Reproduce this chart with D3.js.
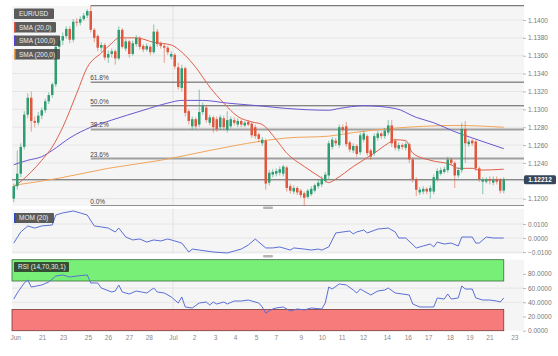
<!DOCTYPE html>
<html><head><meta charset="utf-8">
<script src="https://cdn.jsdelivr.net/npm/d3@7"></script>
<style>body{margin:0;background:#fff;} svg{display:block;font-family:"Liberation Sans",Arial,sans-serif;}</style>
</head><body><svg id="c" width="558" height="356"></svg>
<script>
// ---- data (EUR/USD 4h candles) ----
const opens = [1.1200,1.1214,1.1228,1.1258,1.1294,1.1313,1.1287,1.1285,1.1293,1.1299,1.1309,1.1316,1.1328,1.1370,1.1377,1.1382,1.1390,1.1378,1.1398,1.1397,1.1401,1.1405,1.1410,1.1389,1.1382,1.1369,1.1372,1.1358,1.1362,1.1365,1.1357,1.1389,1.1368,1.1376,1.1362,1.1373,1.1380,1.1371,1.1367,1.1370,1.1364,1.1387,1.1374,1.1371,1.1369,1.1359,1.1361,1.1347,1.1324,1.1346,1.1298,1.1281,1.1289,1.1283,1.1297,1.1302,1.1285,1.1291,1.1289,1.1280,1.1290,1.1277,1.1281,1.1288,1.1283,1.1287,1.1282,1.1286,1.1284,1.1280,1.1272,1.1262,1.1265,1.1218,1.1227,1.1228,1.1229,1.1228,1.1235,1.1214,1.1208,1.1212,1.1209,1.1206,1.1202,1.1205,1.1209,1.1214,1.1216,1.1220,1.1226,1.1258,1.1265,1.1260,1.1280,1.1281,1.1263,1.1254,1.1259,1.1252,1.1266,1.1270,1.1254,1.1251,1.1268,1.1273,1.1270,1.1274,1.1282,1.1265,1.1256,1.1260,1.1257,1.1261,1.1244,1.1222,1.1207,1.1208,1.1211,1.1208,1.1208,1.1222,1.1228,1.1230,1.1232,1.1244,1.1240,1.1226,1.1232,1.1278,1.1261,1.1265,1.1264,1.1234,1.1219,1.1219,1.1222,1.1218,1.1222,1.1221,1.1209];
const highs = [1.1217,1.1254,1.1262,1.1298,1.1318,1.1320,1.1292,1.1297,1.1302,1.1312,1.1319,1.1330,1.1373,1.1381,1.1386,1.1393,1.1393,1.1401,1.1402,1.1404,1.1408,1.1412,1.1416,1.1391,1.1384,1.1375,1.1374,1.1366,1.1368,1.1367,1.1393,1.1391,1.1379,1.1378,1.1377,1.1383,1.1382,1.1373,1.1374,1.1372,1.1395,1.1390,1.1376,1.1374,1.1371,1.1365,1.1363,1.1352,1.1350,1.1348,1.1300,1.1292,1.1291,1.1322,1.1308,1.1305,1.1294,1.1293,1.1292,1.1294,1.1293,1.1298,1.1292,1.1291,1.1290,1.1289,1.1287,1.1288,1.1286,1.1283,1.1274,1.1269,1.1267,1.1232,1.1233,1.1234,1.1236,1.1238,1.1237,1.1217,1.1215,1.1214,1.1211,1.1208,1.1211,1.1214,1.1217,1.1221,1.1225,1.1230,1.1265,1.1269,1.1268,1.1283,1.1283,1.1286,1.1265,1.1262,1.1261,1.1274,1.1276,1.1272,1.1256,1.1273,1.1276,1.1275,1.1279,1.1288,1.1288,1.1267,1.1263,1.1262,1.1264,1.1263,1.1246,1.1224,1.1213,1.1214,1.1213,1.1215,1.1227,1.1234,1.1235,1.1236,1.1247,1.1246,1.1242,1.1235,1.1285,1.1287,1.1267,1.1267,1.1266,1.1236,1.1224,1.1224,1.1225,1.1225,1.1225,1.1223,1.1224];
const lows = [1.1196,1.1210,1.1224,1.1255,1.1290,1.1275,1.1280,1.1282,1.1289,1.1296,1.1306,1.1313,1.1325,1.1366,1.1372,1.1379,1.1374,1.1375,1.1393,1.1394,1.1399,1.1402,1.1386,1.1375,1.1365,1.1364,1.1355,1.1352,1.1358,1.1350,1.1355,1.1368,1.1365,1.1358,1.1360,1.1370,1.1367,1.1364,1.1365,1.1361,1.1362,1.1370,1.1368,1.1352,1.1361,1.1356,1.1345,1.1322,1.1320,1.1292,1.1283,1.1277,1.1278,1.1280,1.1294,1.1285,1.1282,1.1274,1.1275,1.1277,1.1277,1.1274,1.1279,1.1282,1.1280,1.1280,1.1280,1.1281,1.1268,1.1267,1.1263,1.1259,1.1210,1.1215,1.1224,1.1225,1.1226,1.1225,1.1208,1.1206,1.1205,1.1204,1.1201,1.1192,1.1200,1.1203,1.1207,1.1211,1.1213,1.1218,1.1222,1.1255,1.1259,1.1257,1.1274,1.1258,1.1252,1.1251,1.1247,1.1249,1.1263,1.1248,1.1243,1.1248,1.1265,1.1267,1.1267,1.1271,1.1258,1.1254,1.1253,1.1255,1.1254,1.1240,1.1218,1.1203,1.1204,1.1205,1.1205,1.1200,1.1205,1.1219,1.1226,1.1228,1.1229,1.1237,1.1212,1.1223,1.1229,1.1240,1.1258,1.1259,1.1231,1.1219,1.1205,1.1217,1.1216,1.1215,1.1216,1.1206,1.1206];
const closes = [1.1214,1.1228,1.1258,1.1294,1.1313,1.1287,1.1285,1.1293,1.1299,1.1309,1.1316,1.1328,1.1370,1.1377,1.1382,1.1390,1.1378,1.1398,1.1397,1.1401,1.1405,1.1410,1.1389,1.1380,1.1369,1.1372,1.1358,1.1362,1.1365,1.1357,1.1389,1.1370,1.1376,1.1362,1.1374,1.1380,1.1370,1.1367,1.1371,1.1364,1.1387,1.1373,1.1371,1.1369,1.1364,1.1362,1.1348,1.1325,1.1346,1.1296,1.1287,1.1289,1.1281,1.1297,1.1304,1.1288,1.1291,1.1280,1.1278,1.1291,1.1280,1.1288,1.1289,1.1285,1.1287,1.1283,1.1285,1.1283,1.1271,1.1270,1.1267,1.1266,1.1217,1.1229,1.1230,1.1231,1.1233,1.1236,1.1212,1.1209,1.1212,1.1207,1.1204,1.1201,1.1209,1.1211,1.1215,1.1218,1.1222,1.1227,1.1262,1.1266,1.1262,1.1280,1.1277,1.1261,1.1255,1.1259,1.1250,1.1271,1.1273,1.1251,1.1247,1.1270,1.1273,1.1270,1.1276,1.1282,1.1262,1.1257,1.1260,1.1258,1.1261,1.1244,1.1222,1.1210,1.1210,1.1211,1.1208,1.1212,1.1224,1.1231,1.1232,1.1233,1.1244,1.1240,1.1226,1.1232,1.1278,1.1262,1.1264,1.1262,1.1234,1.1222,1.1221,1.1222,1.1220,1.1221,1.1219,1.1209,1.12212];

const sma20Idx = [0,5,8,11,14,18,21,25,28,30,35,40,45,48,52,56,60,64,68,71,75,78,83,88,90,92,97,103,107,109,112,114,119,125,127,131,133,140];
const sma20Val = [1.1213,1.1230,1.1243,1.1258,1.1280,1.1318,1.1347,1.1363,1.1374,1.1380,1.1380,1.1375,1.1372,1.1364,1.1347,1.1325,1.1307,1.1292,1.1286,1.1283,1.1266,1.1251,1.1236,1.1223,1.1218,1.1222,1.1236,1.1251,1.1262,1.1266,1.1265,1.1251,1.1243,1.1238,1.1234,1.1234,1.1232,1.1233];
const sma100Idx = [0,4,8,11,16,22,28,37,44,48,54,61,70,78,90,93,100,109,115,120,126,131,140];
const sma100Val = [1.1238,1.1243,1.1247,1.1254,1.1268,1.1280,1.1288,1.1299,1.1307,1.1310,1.1310,1.1307,1.1304,1.1301,1.1299,1.1301,1.1304,1.1301,1.1291,1.1285,1.1275,1.1268,1.1256];
const sma200Idx = [0,13,27,42,56,70,78,90,97,109,117,126,140];
const sma200Val = [1.1215,1.1223,1.1234,1.1243,1.1254,1.1264,1.1268,1.1270,1.1274,1.1279,1.1281,1.1282,1.1280];

const momIdx = [0,2,4,6,8,11,12,14,17,19,21,23,25,27,29,30,32,34,36,38,40,42,44,46,48,50,51,53,57,61,63,65,67,69,70,72,74,76,79,80,83,85,87,88,90,92,94,96,97,98,100,101,104,107,109,110,112,115,117,119,120,121,123,125,127,128,131,132,133,135,137,140];
const momVal = [-0.0036,0.0043,0.0086,0.0071,0.0086,0.0093,0.0164,0.0179,0.0193,0.0179,0.0164,0.0086,0.0079,0.0071,0.0043,0.0071,0.0007,-0.0014,-0.0007,-0.0029,-0.0014,-0.0021,-0.0007,-0.0021,-0.0036,-0.0100,-0.0079,-0.0086,-0.0100,-0.0107,-0.0093,-0.0079,-0.0050,-0.0007,-0.0029,-0.0071,-0.0071,-0.0064,-0.0086,-0.0071,-0.0079,-0.0086,-0.0079,-0.0086,-0.0064,0.0036,0.0043,0.0050,0.0029,0.0043,0.0057,0.0036,0.0064,0.0071,0.0043,0.0000,0.0000,-0.0071,-0.0057,-0.0043,-0.0064,-0.0029,-0.0043,-0.0036,-0.0057,0.0007,0.0007,-0.0036,-0.0036,0.0007,0.0000,0.0000];

const rsiIdx = [0,1,3,4,5,8,10,12,14,16,18,21,22,24,25,28,29,30,31,33,35,38,40,41,43,45,47,48,49,51,53,55,56,57,58,60,61,63,65,67,68,70,71,72,74,75,77,79,81,83,85,88,89,90,91,93,95,97,98,99,100,102,104,106,107,109,111,113,114,116,118,120,121,123,124,125,127,128,129,131,132,134,136,138,139,140];
const rsiVal = [44.6,53.1,67.2,71.4,61.5,64.4,68.6,77.0,78.5,75.6,77.0,78.5,67.2,67.2,60.1,54.5,55.9,64.4,54.5,51.7,55.9,53.1,60.1,54.5,53.1,47.5,39.0,47.5,33.4,32.0,39.0,40.4,36.2,40.4,37.6,40.4,37.6,41.8,41.8,43.2,41.8,39.0,33.4,24.9,30.6,32.0,33.4,27.7,30.6,29.2,32.0,30.6,39.0,61.5,58.7,65.8,64.4,57.3,53.1,58.7,55.9,50.3,55.9,57.3,60.1,53.1,51.7,50.3,37.6,33.4,33.4,33.4,46.1,44.6,51.7,44.6,46.1,63.0,58.7,58.7,46.1,43.2,43.2,41.8,40.4,46.1];

const priceTicks = [1.1200,1.1220,1.1240,1.1260,1.1280,1.1300,1.1320,1.1340,1.1360,1.1380,1.1400];
const momTicks = [-0.01,0,0.01];
const rsiTicks = [0,20,40,60,80];
const dateTickPos = [0.4,8.1,14.1,21.2,26.9,32.9,38.6,45.5,51.5,57.5,63.2,69.2,74.9,82,88,93.7,99.8,106.6,112.6,118.4,124.6,130.2,135.9,143];
const dateTickLabels = ["Jun","21","23","25","26","27","28","Jul","2","3","4","5","7","9","10","11","12","14","16","17","18","19","21","23"];
const fibLevels = [0,23.6,38.2,50,61.8,100];
const fibHigh = 1.1416, fibLow = 1.1192, fibStartIdx = 22;
const legendNames = ["EUR/USD","SMA (20,0)","SMA (100,0)","SMA (200,0)"];

// ---- layout ----
const svg = d3.select("#c");
const L = 12, R = 524;
const main = {t:6, b:206}, mom = {t:209, b:254}, rsi = {t:259.7, b:330.7};
const N = closes.length;
const x = d3.scaleLinear().domain([-0.5, N - 0.5]).range([L, 505.5]);
const y = d3.scaleLinear().domain([1.12, 1.14]).range([198.7, 20]);
const ym = d3.scaleLinear().domain([-0.01, 0.01]).range([252, 224]);
const yr = d3.scaleLinear().domain([0, 100]).range([rsi.b, rsi.t]);
const GREEN = "#2e9e72", RED = "#e0573e";
const lastPrice = closes[N-1];

// backgrounds
[main, mom, rsi].forEach(p => svg.append("rect").attr("x", L).attr("y", p.t).attr("width", R - L).attr("height", p.b - p.t).attr("fill", "#f5f5f5"));

// clip paths
const defs = svg.append("defs");
defs.append("clipPath").attr("id","cm").append("rect").attr("x",L).attr("y",main.t-1).attr("width",R-L).attr("height",main.b-main.t+1);
defs.append("clipPath").attr("id","co").append("rect").attr("x",L).attr("y",mom.t).attr("width",R-L).attr("height",mom.b-mom.t);

// grid lines
const g = svg.append("g");
priceTicks.forEach(v => g.append("line").attr("x1",L).attr("x2",R).attr("y1",y(v)).attr("y2",y(v)).attr("stroke","#e6e6e6"));
momTicks.forEach(v => g.append("line").attr("x1",L).attr("x2",R).attr("y1",ym(v)).attr("y2",ym(v)).attr("stroke","#e6e6e6"));
[40,60].forEach(v => g.append("line").attr("x1",L).attr("x2",R).attr("y1",yr(v)).attr("y2",yr(v)).attr("stroke","#e6e6e6"));
[main, mom, rsi].forEach(p => g.append("line").attr("x1",x(45.5)).attr("x2",x(45.5)).attr("y1",p.t).attr("y2",p.b).attr("stroke","#e2e2e2"));

// RSI bands
const lastX = x(N - 1);
svg.append("rect").attr("x",L).attr("y",yr(100)).attr("width",lastX-L).attr("height",yr(70)-yr(100)).attr("fill","#78f078").attr("stroke","#3d6b3d").attr("stroke-width",0.8);
svg.append("rect").attr("x",L).attr("y",yr(30)).attr("width",lastX-L).attr("height",yr(0)-yr(30)).attr("fill","#f77b7b").attr("stroke","#7a3a3a").attr("stroke-width",0.8);

// fibonacci lines
const mg = svg.append("g").attr("clip-path","url(#cm)");
fibLevels.forEach(l => {
  const p = fibLow + (fibHigh - fibLow) * l / 100;
  const heavy = (l === 23.6 || l === 38.2);
  mg.append("line").attr("x1",x(fibStartIdx)).attr("x2",R).attr("y1",y(p)).attr("y2",y(p))
    .attr("stroke", heavy ? "#a0a0a0" : "#5a5a5a").attr("stroke-width", heavy ? 2 : 1);
  if (l < 100) svg.append("text").attr("x",x(fibStartIdx)-0.5).attr("y",y(p)-2).attr("font-size",6.5).attr("fill","#444").text(l.toFixed(1)+"%");
});
// current price line
mg.append("line").attr("x1",L).attr("x2",R).attr("y1",y(lastPrice)).attr("y2",y(lastPrice)).attr("stroke","#606060").attr("stroke-width",1);

// SMA lines
function smaLine(idx, val, color) {
  const pts = idx.map((d,i)=>[x(d), y(val[i])]);
  mg.append("path").attr("d", d3.line().curve(d3.curveMonotoneX)(pts)).attr("fill","none").attr("stroke",color).attr("stroke-width",1);
}
smaLine(sma200Idx, sma200Val, "#f3a55a");
smaLine(sma100Idx, sma100Val, "#6a55d0");
smaLine(sma20Idx, sma20Val, "#e0604a");

// candles
const cg = mg.append("g");
closes.forEach((c,i) => {
  const o = opens[i], up = c >= o, col = up ? GREEN : RED;
  cg.append("line").attr("x1",x(i)).attr("x2",x(i)).attr("y1",y(highs[i])).attr("y2",y(lows[i])).attr("stroke",col).attr("stroke-opacity",0.55).attr("stroke-width",1);
  const top = y(Math.max(o,c)), bot = y(Math.min(o,c));
  cg.append("rect").attr("x",x(i)-1.25).attr("y",top).attr("width",2.5).attr("height",Math.max(0.8,bot-top)).attr("fill",col);
});

// MOM line
svg.append("path").attr("clip-path","url(#co)").attr("d", d3.line()(momIdx.map((d,i)=>[x(d), ym(momVal[i])]))).attr("fill","none").attr("stroke","#5b6fd6").attr("stroke-width",1);
// RSI line
svg.append("path").attr("d", d3.line()(rsiIdx.map((d,i)=>[x(d), yr(rsiVal[i])]))).attr("fill","none").attr("stroke","#5b6fd6").attr("stroke-width",1);

// right axes
function rightAxis(scale, ticks, fmt, hideNear) {
  const a = svg.append("g").attr("transform",`translate(${R-1},0)`)
    .call(d3.axisRight(scale).tickValues(ticks).tickFormat(fmt).tickSize(3).tickPadding(2));
  a.select(".domain").remove();
  a.selectAll("line").attr("stroke","#bbb");
  a.selectAll("text").attr("font-size",6.5).attr("fill","#777").attr("font-family","Liberation Sans, Arial, sans-serif");
  // the last-price tag covers the tick label next to it
  if (hideNear !== undefined) a.selectAll(".tick").filter(d => Math.abs(scale(d) - scale(hideNear)) < 8).select("text").remove();
}
rightAxis(y, priceTicks, d3.format(".4f"), lastPrice);
rightAxis(ym, momTicks, d3.format(".4f"));
rightAxis(yr, rsiTicks, d3.format(".4f"));

// last price tag
const lp = y(lastPrice);
svg.append("rect").attr("x",R).attr("y",lp-4.5).attr("width",32).attr("height",9).attr("rx",1.5).attr("fill","#34475c");
svg.append("text").attr("x",R+16).attr("y",lp+2.3).attr("text-anchor","middle").attr("font-size",6.5).attr("font-weight","bold").attr("fill","#fff").text(d3.format(".5f")(lastPrice));

// bottom axis
const xa = svg.append("g").attr("transform",`translate(0,${rsi.b})`)
  .call(d3.axisBottom(x).tickValues(dateTickPos).tickFormat((d,i)=>dateTickLabels[i]).tickSize(0).tickPadding(5));
xa.select(".domain").remove();
xa.selectAll("text").attr("font-size",6.5).attr("fill","#888").attr("font-family","Liberation Sans, Arial, sans-serif");

// splitter handles
[main.b + 1.5, mom.b + 2].forEach(yy => svg.append("rect").attr("x",263).attr("y",yy-1).attr("width",10).attr("height",2.5).attr("rx",1).attr("fill","#b5b5b5"));

// legend boxes
const legColors = [null, "#e0533f", "#5a3fd0", "#f0a050"];
const legW = [40, 42, 46, 46];
legendNames.forEach((n,i) => {
  const ty = 8.5 + i*13.5;
  svg.append("rect").attr("x",14).attr("y",ty).attr("width",legW[i]).attr("height",10.5).attr("rx",1).attr("fill","rgba(70,70,70,0.88)");
  if (legColors[i]) svg.append("rect").attr("x",14).attr("y",ty).attr("width",1.5).attr("height",10.5).attr("fill",legColors[i]);
  svg.append("text").attr("x",19).attr("y",ty+7.6).attr("font-size",6.5).attr("fill","#eee").text(n);
});
// MOM label
svg.append("rect").attr("x",14).attr("y",213).attr("width",40).attr("height",10).attr("rx",1).attr("fill","rgba(70,70,70,0.88)");
svg.append("rect").attr("x",14).attr("y",213).attr("width",1.5).attr("height",10).attr("fill","#2c48c8");
svg.append("text").attr("x",19).attr("y",220.4).attr("font-size",6.5).attr("fill","#eee").text("MOM (20)");
// RSI label
svg.append("rect").attr("x",14).attr("y",262).attr("width",55).attr("height",10).attr("rx",1).attr("fill","rgba(40,50,40,0.85)");
svg.append("text").attr("x",18).attr("y",269.4).attr("font-size",6.5).attr("fill","#eee").text("RSI (14,70,30,1)");
</script></body></html>
